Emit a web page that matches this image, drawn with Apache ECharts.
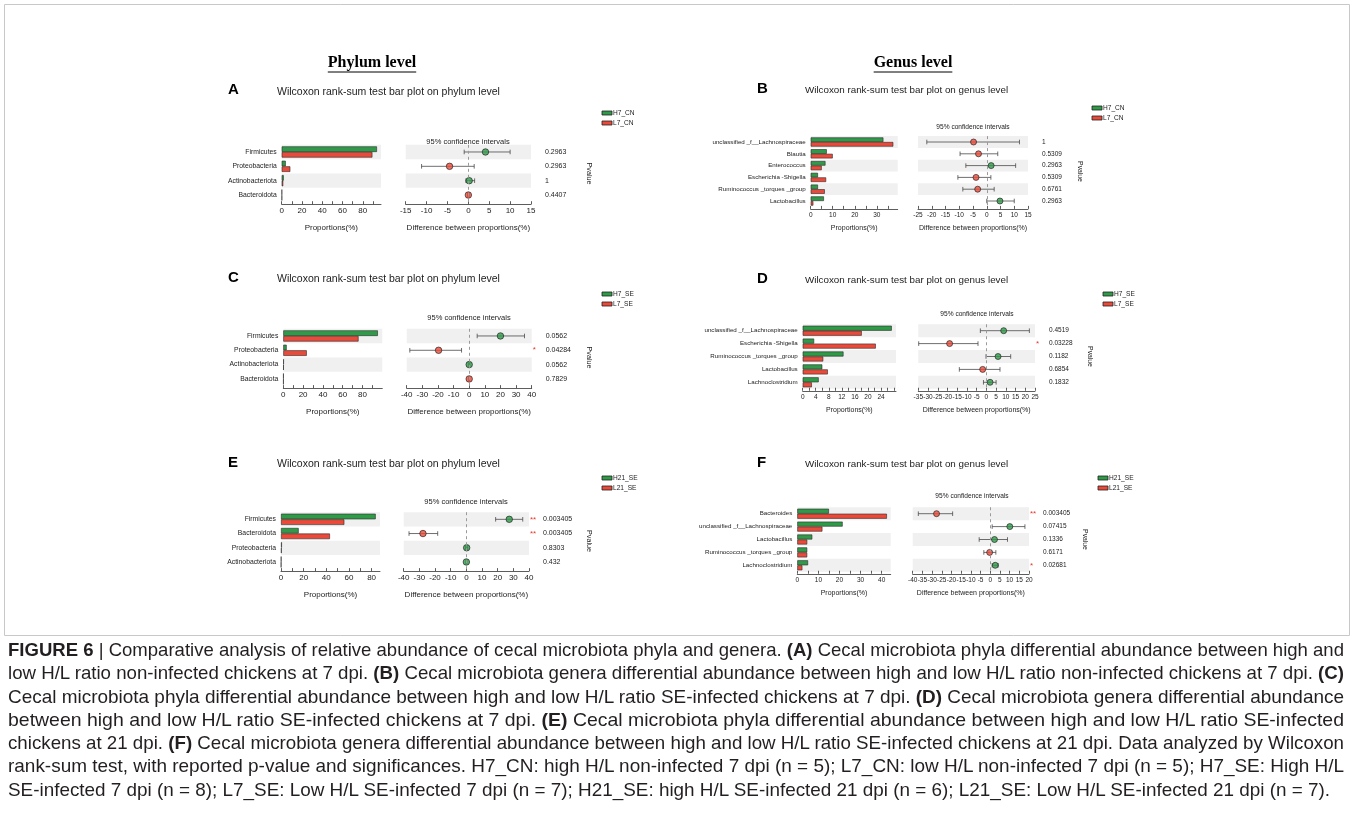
<!DOCTYPE html>
<html>
<head>
<meta charset="utf-8">
<script src="https://cdn.jsdelivr.net/npm/echarts@6/dist/echarts.min.js"></script>
<style>
  body { margin: 0; background: #fff; }
  #chart { width: 1354px; height: 818px; }
  #caption { position: absolute; left: 8px; top: 638px; width: 1336px;
    font-family: 'Liberation Sans', Arial, sans-serif; font-size: 18.5px; color: #231f20; }
  #caption div { height: 23.3px; line-height: 23.3px; white-space: nowrap; }
  #caption span { display: inline-block; transform-origin: 0 50%; }
</style>
</head>
<body>
<div id="chart"></div>
<div id="caption">
  <div><span><b>FIGURE 6</b> | Comparative analysis of relative abundance of cecal microbiota phyla and genera. <b>(A)</b> Cecal microbiota phyla differential abundance between high and</span></div>
  <div><span>low H/L ratio non-infected chickens at 7 dpi. <b>(B)</b> Cecal microbiota genera differential abundance between high and low H/L ratio non-infected chickens at 7 dpi. <b>(C)</b></span></div>
  <div><span>Cecal microbiota phyla differential abundance between high and low H/L ratio SE-infected chickens at 7 dpi. <b>(D)</b> Cecal microbiota genera differential abundance</span></div>
  <div><span>between high and low H/L ratio SE-infected chickens at 7 dpi. <b>(E)</b> Cecal microbiota phyla differential abundance between high and low H/L ratio SE-infected</span></div>
  <div><span>chickens at 21 dpi. <b>(F)</b> Cecal microbiota genera differential abundance between high and low H/L ratio SE-infected chickens at 21 dpi. Data analyzed by Wilcoxon</span></div>
  <div><span>rank-sum test, with reported p-value and significances. H7_CN: high H/L non-infected 7 dpi (n = 5); L7_CN: low H/L non-infected 7 dpi (n = 5); H7_SE: High H/L</span></div>
  <div><span>SE-infected 7 dpi (n = 8); L7_SE: Low H/L SE-infected 7 dpi (n = 7); H21_SE: high H/L SE-infected 21 dpi (n = 6); L21_SE: Low H/L SE-infected 21 dpi (n = 7).</span></div>
</div>
<script>
// ---- data ----
// A: phylum, 7 dpi non-infected
const catsA = ['Firmicutes', 'Proteobacteria', 'Actinobacteriota', 'Bacteroidota'];
const highA = [94, 4, 2, 0.3];
const lowA = [89.5, 8.5, 1.5, 0.3];
const diffA = [4.1, -4.5, 0.2, 0];
const ciLoA = [-1, -11.2, -0.6, -0.2];
const ciHiA = [10, 1.4, 1.5, 0.2];
const pA = ['0.2963', '0.2963', '1', '0.4407'];
const sigA = ['', '', '', ''];
const winA = ['H', 'L', 'H', 'L'];

// B: genus, 7 dpi non-infected
const catsB = ['unclassified _f__Lachnospiraceae', 'Blautia', 'Enterococcus', 'Escherichia -Shigella', 'Ruminococcus _torques _group', 'Lactobacillus'];
const highB = [33, 7.3, 6.7, 3.3, 3.3, 6];
const lowB = [37.5, 10, 5, 7, 6.4, 1.2];
const diffB = [-4.8, -3, 1.6, -3.9, -3.3, 4.8];
const ciLoB = [-21.8, -9.7, -7.6, -10.5, -8.7, 0];
const ciHiB = [11.9, 4, 10.5, 1.5, 2.7, 10];
const pB = ['1', '0.5309', '0.2963', '0.5309', '0.6761', '0.2963'];
const sigB = ['', '', '', '', '', ''];
const winB = ['L', 'L', 'H', 'L', 'L', 'H'];

// C: phylum, 7 dpi SE-infected
const catsC = ['Firmicutes', 'Proteobacteria', 'Actinobacteriota', 'Bacteroidota'];
const highC = [95.5, 3.4, 0.5, 0.3];
const lowC = [76, 23.7, 0.4, 0.3];
const diffC = [20, -19.6, 0, 0];
const ciLoC = [5.1, -38, -0.3, -0.3];
const ciHiC = [35.4, -4.9, 0.3, 0.3];
const pC = ['0.0562', '0.04284', '0.0562', '0.7829'];
const sigC = ['', '*', '', ''];
const winC = ['H', 'L', 'H', 'L'];

// D: genus, 7 dpi SE-infected
const catsD = ['unclassified _f__Lachnospiraceae', 'Escherichia -Shigella', 'Ruminococcus _torques _group', 'Lactobacillus', 'Lachnoclostridium'];
const highD = [27.3, 3.5, 12.5, 6, 4.9];
const lowD = [18.1, 22.4, 6.3, 7.7, 2.8];
const diffD = [8.9, -18.9, 6, -1.9, 1.9];
const ciLoD = [-3.1, -34.8, -0.2, -13.9, -1.5];
const ciHiD = [22.1, -4.3, 12.5, 7, 5];
const pD = ['0.4519', '0.03228', '0.1182', '0.6854', '0.1832'];
const sigD = ['', '*', '', '', ''];
const winD = ['H', 'L', 'H', 'L', 'H'];

// E: phylum, 21 dpi SE-infected
const catsE = ['Firmicutes', 'Bacteroidota', 'Proteobacteria', 'Actinobacteriota'];
const highE = [83.6, 15.6, 0.8, 0.3];
const lowE = [55.9, 43.2, 0.6, 0.2];
const diffE = [27.4, -27.7, 0.2, 0];
const ciLoE = [18.7, -36.6, -0.5, -0.3];
const ciHiE = [36, -18.3, 0.8, 0.3];
const pE = ['0.003405', '0.003405', '0.8303', '0.432'];
const sigE = ['**', '**', '', ''];
const winE = ['H', 'L', 'H', 'H'];

// F: genus, 21 dpi SE-infected
const catsF = ['Bacteroides', 'unclassified _f__Lachnospiraceae', 'Lactobacillus', 'Ruminococcus _torques _group', 'Lachnoclostridium'];
const highF = [15, 21.5, 7.1, 4.7, 5.1];
const lowF = [42.5, 11.9, 4.7, 4.7, 2.4];
const diffF = [-27.7, 10.1, 2.2, -0.3, 2.6];
const ciLoF = [-37.1, 1, -5.7, -3.3, 1];
const ciHiF = [-19.4, 17.9, 8.9, 2.9, 4.1];
const pF = ['0.003405', '0.07415', '0.1336', '0.6171', '0.02681'];
const sigF = ['**', '', '', '', '*'];
const winF = ['L', 'H', 'H', 'L', 'H'];

const groupsCN = ['H7_CN', 'L7_CN'];
const groupsSE7 = ['H7_SE', 'L7_SE'];
const groupsSE21 = ['H21_SE', 'L21_SE'];

const GREEN = '#2f9a48';
const RED = '#ea4a3a';
const INK = '#222';

// ---- panel layout (pixels) ----
const panels = [
  { tag: 'A', level: 'phylum', cats: catsA, high: highA, low: lowA, diff: diffA, lo: ciLoA, hi: ciHiA, p: pA, sig: sigA, win: winA, groups: groupsCN,
    big: true, top: 144.8, h: 57.4, bw: 5.6,
    barL: 281.7, barW: 99.3, barMax: 98, barTick: 10, barLbl: 20, barLblMax: 80,
    ciL: 405.7, ciW: 125.3, ciMin: -15, ciMax: 15, ciTick: 5,
    letter: [228, 90], title: [277, 92], ciTitle: [468, 142], legend: [602, 113], pv: [589, 173.5] },
  { tag: 'B', level: 'genus', cats: catsB, high: highB, low: lowB, diff: diffB, lo: ciLoB, hi: ciHiB, p: pB, sig: sigB, win: winB, groups: groupsCN,
    big: false, top: 136.1, h: 70.8, bw: 4.6,
    barL: 810.7, barW: 87, barMax: 39.5, barTick: 5, barLbl: 10, barLblMax: 30,
    ciL: 918, ciW: 110, ciMin: -25, ciMax: 15, ciTick: 5,
    letter: [757, 89], title: [805, 90], ciTitle: [973, 127], legend: [1092, 108], pv: [1080, 171.5] },
  { tag: 'C', level: 'phylum', cats: catsC, high: highC, low: lowC, diff: diffC, lo: ciLoC, hi: ciHiC, p: pC, sig: sigC, win: winC, groups: groupsSE7,
    big: true, top: 328.8, h: 57.3, bw: 5.6,
    barL: 283.3, barW: 99, barMax: 100, barTick: 10, barLbl: 20, barLblMax: 80,
    ciL: 406.7, ciW: 125, ciMin: -40, ciMax: 40, ciTick: 10,
    letter: [228, 278], title: [277, 279], ciTitle: [469, 318], legend: [602, 294], pv: [589, 357.5] },
  { tag: 'D', level: 'genus', cats: catsD, high: highD, low: lowD, diff: diffD, lo: ciLoD, hi: ciHiD, p: pD, sig: sigD, win: winD, groups: groupsSE7,
    big: false, top: 324.25, h: 64.5, bw: 5,
    barL: 802.7, barW: 93.3, barMax: 28.6, barTick: 2, barLbl: 4, barLblMax: 24,
    ciL: 918.3, ciW: 116.7, ciMin: -35, ciMax: 25, ciTick: 5,
    letter: [757, 279], title: [805, 280], ciTitle: [977, 314], legend: [1103, 294], pv: [1090, 356.5] },
  { tag: 'E', level: 'phylum', cats: catsE, high: highE, low: lowE, diff: diffE, lo: ciLoE, hi: ciHiE, p: pE, sig: sigE, win: winE, groups: groupsSE21,
    big: true, top: 512.2, h: 56.9, bw: 5.6,
    barL: 281, barW: 99, barMax: 87.4, barTick: 10, barLbl: 20, barLblMax: 80,
    ciL: 403.7, ciW: 125.3, ciMin: -40, ciMax: 40, ciTick: 10,
    letter: [228, 463], title: [277, 464], ciTitle: [466, 502], legend: [602, 478], pv: [589, 541] },
  { tag: 'F', level: 'genus', cats: catsF, high: highF, low: lowF, diff: diffF, lo: ciLoF, hi: ciHiF, p: pF, sig: sigF, win: winF, groups: groupsSE21,
    big: false, top: 507.25, h: 64.5, bw: 5,
    barL: 797.3, barW: 93.4, barMax: 44.3, barTick: 5, barLbl: 10, barLblMax: 40,
    ciL: 912.7, ciW: 116.3, ciMin: -40, ciMax: 20, ciTick: 5,
    letter: [757, 463], title: [805, 464], ciTitle: [972, 496], legend: [1098, 478], pv: [1085, 539.5] }
];

const grid = [], xAxis = [], yAxis = [], series = [], graphic = [];

function errorBar(params, api) {
  const row = api.value(2);
  const a = api.coord([api.value(0), row]);
  const b = api.coord([api.value(1), row]);
  const cap = 2.3;
  const style = { stroke: '#4a4a4a', lineWidth: 0.8 };
  return {
    type: 'group',
    children: [
      { type: 'line', shape: { x1: a[0], y1: a[1], x2: b[0], y2: b[1] }, style: style },
      { type: 'line', shape: { x1: a[0], y1: a[1] - cap, x2: a[0], y2: a[1] + cap }, style: style },
      { type: 'line', shape: { x1: b[0], y1: b[1] - cap, x2: b[0], y2: b[1] + cap }, style: style }
    ]
  };
}

function txt(x, y, text, size, opt) {
  opt = opt || {};
  return {
    type: 'text', x: x, y: y, rotation: opt.rotation || 0, silent: true,
    style: {
      text: text, fill: opt.fill || INK, fontSize: size,
      fontFamily: opt.family || 'Liberation Sans', fontWeight: opt.weight || 'normal',
      align: opt.align || 'left', verticalAlign: 'middle'
    }
  };
}

function addPanel(p) {
  const gi = grid.length;
  const small = !p.big;
  const tickFont = small ? 6.5 : 8;
  const nameFont = small ? 7 : 8;
  const catFont = small ? 6.2 : 6.8;
  const pFont = small ? 6.5 : 7;

  grid.push({ left: p.barL, top: p.top, width: p.barW, height: p.h });
  grid.push({ left: p.ciL, top: p.top, width: p.ciW, height: p.h });

  const axisBase = {
    axisLine: { show: true, lineStyle: { color: '#333', width: 0.8 } },
    axisTick: { show: true, inside: true, length: 3, lineStyle: { color: '#333', width: 0.8 } },
    splitLine: { show: false },
    offset: 2,
    nameLocation: 'middle',
    nameGap: small ? 16 : 20,
    nameTextStyle: { fontSize: nameFont, color: INK }
  };
  xAxis.push(Object.assign({}, axisBase, {
    type: 'value', gridIndex: gi, min: 0, max: p.barMax, interval: p.barTick,
    name: 'Proportions(%)',
    axisLabel: {
      fontSize: tickFont, color: INK, margin: 3, showMaxLabel: false,
      formatter: v => (Math.abs(v % p.barLbl) < 1e-6 && v <= p.barLblMax) ? String(v) : ''
    }
  }));
  xAxis.push(Object.assign({}, axisBase, {
    type: 'value', gridIndex: gi + 1, min: p.ciMin, max: p.ciMax, interval: p.ciTick,
    name: 'Difference between proportions(%)',
    axisLabel: { fontSize: tickFont, color: INK, margin: 3 }
  }));

  const band = { show: true, interval: 0, areaStyle: { color: ['#f0f0f0', 'rgba(255,255,255,0)'] } };
  yAxis.push({
    type: 'category', gridIndex: gi, data: p.cats, inverse: true,
    axisLine: { show: false }, axisTick: { show: false }, splitArea: band,
    axisLabel: { interval: 0, fontSize: catFont, color: INK, margin: 5 }
  });
  // right-hand axis of the CI panel carries the p-values and stars
  yAxis.push({
    type: 'category', gridIndex: gi + 1, data: p.cats, inverse: true, position: 'right',
    axisLine: { show: false }, axisTick: { show: false }, splitArea: band,
    axisLabel: {
      interval: 0, margin: 1,
      formatter: (v, i) => '{s|' + (p.sig[i] || ' ') + '}{p|' + p.p[i] + '}',
      rich: { s: { width: 13, color: '#e8372c', fontSize: 8 }, p: { fontSize: pFont, color: INK } }
    }
  });

  const barStyle = c => ({ color: c, borderColor: '#2a2a2a', borderWidth: 0.6 });
  series.push({ type: 'bar', name: p.groups[0], xAxisIndex: gi, yAxisIndex: gi, data: p.high,
    barWidth: p.bw, barGap: '0%', itemStyle: barStyle(GREEN) });
  series.push({ type: 'bar', name: p.groups[1], xAxisIndex: gi, yAxisIndex: gi, data: p.low,
    barWidth: p.bw, barGap: '0%', itemStyle: barStyle(RED) });

  series.push({
    type: 'custom', xAxisIndex: gi + 1, yAxisIndex: gi + 1, z: 3,
    data: p.lo.map((v, i) => [v, p.hi[i], i]),
    encode: { x: [0, 1], y: 2 },
    renderItem: errorBar
  });
  series.push({
    type: 'scatter', xAxisIndex: gi + 1, yAxisIndex: gi + 1, z: 4,
    symbolSize: small ? 6 : 6.5,
    itemStyle: { borderColor: '#1a1a1a', borderWidth: 0.8 },
    data: p.diff.map((v, i) => ({ value: [v, i], itemStyle: { color: p.win[i] === 'H' ? GREEN : RED } })),
    markLine: {
      silent: true, symbol: 'none', label: { show: false },
      lineStyle: { type: [3, 3], color: '#9a9a9a', width: 1 },
      data: [{ xAxis: 0 }]
    }
  });

  // texts around the panel
  graphic.push(txt(p.letter[0], p.letter[1], p.tag, 15, { weight: 'bold', fill: '#000' }));
  graphic.push(txt(p.title[0], p.title[1],
    'Wilcoxon rank-sum test bar plot on ' + p.level + ' level', small ? 9.8 : 10.5));
  graphic.push(txt(p.ciTitle[0], p.ciTitle[1], '95% confidence intervals', small ? 6.6 : 7.5, { align: 'center' }));
  graphic.push(txt(p.pv[0], p.pv[1], 'Pvalue', small ? 6.8 : 7.2, { align: 'center', rotation: -Math.PI / 2 }));
  [GREEN, RED].forEach((c, k) => {
    const y = p.legend[1] + k * 10;
    graphic.push({ type: 'rect', silent: true, shape: { x: p.legend[0], y: y - 2, width: 10, height: 4 },
      style: { fill: c, stroke: '#222', lineWidth: 0.8 } });
    graphic.push(txt(p.legend[0] + 11, y, p.groups[k], 6.6));
  });
}

panels.forEach(addPanel);

// frame and column headers
graphic.push({ type: 'rect', silent: true, shape: { x: 4.5, y: 4.5, width: 1345, height: 631 },
  style: { fill: 'none', stroke: '#c8c8c8', lineWidth: 1 } });
const meas = document.createElement('canvas').getContext('2d');
meas.font = 'bold 16px "Liberation Serif"';
[['Phylum level', 372], ['Genus level', 913]].forEach(h => {
  const w = meas.measureText(h[0]).width;
  graphic.push(txt(h[1], 63, h[0], 16, { align: 'center', weight: 'bold', family: 'Liberation Serif', fill: '#000' }));
  graphic.push({ type: 'line', silent: true, shape: { x1: h[1] - w / 2, y1: 72, x2: h[1] + w / 2, y2: 72 },
    style: { stroke: '#000', lineWidth: 1 } });
});

const chart = echarts.init(document.getElementById('chart'), null, { renderer: 'canvas' });
chart.setOption({
  animation: false,
  backgroundColor: '#fff',
  textStyle: { fontFamily: 'Liberation Sans' },
  grid: grid,
  xAxis: xAxis,
  yAxis: yAxis,
  series: series,
  graphic: { elements: graphic }
});

// squeeze/stretch each caption line to the full column width
const lines = Array.from(document.querySelectorAll('#caption span'));
const target = 1336;
let sum = 0;
lines.forEach((s, i) => {
  const last = i === lines.length - 1;
  const k = last ? sum / (lines.length - 1) : target / s.getBoundingClientRect().width;
  if (!last) sum += k;
  s.style.transform = 'scaleX(' + k + ')';
});
</script>
</body>
</html>
